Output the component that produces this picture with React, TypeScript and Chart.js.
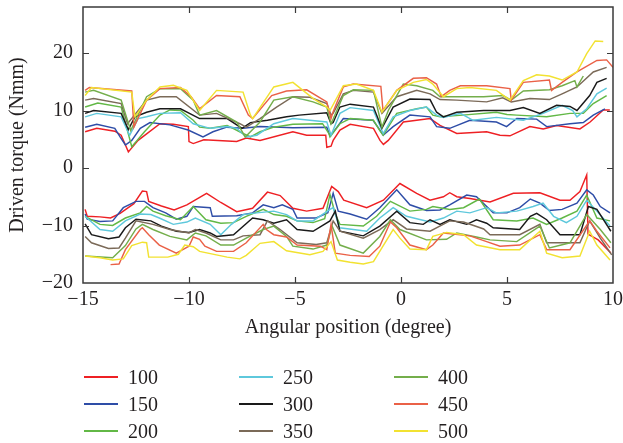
import React, { useEffect, useRef } from 'react';
import { Chart, registerables } from 'chart.js';

Chart.register(...registerables);

const FONT = '"Liberation Serif", "Times New Roman", serif';
const TEXT = '#231f20';

const seriesLabels = ['100', '150', '200', '250', '300', '350', '400', '450', '500'];
const seriesColors = ['#ee2024', '#2e4da7', '#62b846', '#5ec8dc', '#1a1a1a', '#7b6a58', '#74ae4b', '#ea6147', '#f2e231'];
const xTickValues = [-15, -10, -5, 0, 5, 10];
const yTickValues = [-20, -10, 0, 10, 20];

// upper (positive torque) branches: [angle, torque]
const up100 = [[-14.9,6.3],[-14.35,6.9],[-13.5,6.4],[-13.2,5.7],[-12.86,2.8],[-12.4,4.8],[-11.37,7.7],[-10.74,7.6],[-10.03,7.2],[-10.0,4.6],[-9.8,4.25],[-9.3,4.9],[-7.75,4.6],[-7.3,5.2],[-6.65,4.8],[-5.1,6.3],[-4.45,5.7],[-3.55,5.7],[-3.5,3.6],[-3.3,3.8],[-3.2,4.8],[-2.88,6.6],[-2.4,7.6],[-1.3,6.9],[-0.99,4.8],[-0.83,4.1],[-0.6,4.8],[0.11,8.0],[1.37,8.6],[1.84,7.4],[2.63,6.0],[4.04,6.3],[4.67,5.7],[5.14,5.6],[6.08,7.2],[6.71,6.8],[7.34,7.4],[8.44,6.8],[8.92,8.0],[9.54,10.1],[9.85,10.1]];
const up150 = [[-14.9,7.1],[-14.35,7.6],[-13.5,6.9],[-13.25,5.4],[-13.0,4.0],[-12.7,4.8],[-12.3,6.9],[-11.84,7.9],[-10.9,7.5],[-10.04,6.6],[-9.34,5.4],[-8.87,6.3],[-8.22,7.1],[-7.45,6.9],[-6.65,7.2],[-5.1,7.0],[-3.5,7.1],[-3.35,5.6],[-3.2,6.2],[-2.72,8.6],[-1.32,8.3],[-1.05,6.9],[-0.84,5.7],[-0.37,7.2],[0.42,9.2],[1.37,8.9],[1.68,7.2],[2.3,6.9],[3.25,8.3],[4.5,8.0],[4.98,7.2],[5.46,8.6],[6.4,8.5],[6.87,7.2],[7.97,7.7],[8.6,7.9],[9.07,9.2],[9.62,10.3]];
const up200 = [[-14.9,10.6],[-14.3,11.3],[-13.2,10.6],[-12.7,3.7],[-12.1,6.3],[-11.37,9.2],[-10.9,10.1],[-10.4,10.0],[-9.8,8.3],[-9.5,7.1],[-9.0,6.9],[-8.2,7.4],[-7.45,6.0],[-7.1,5.4],[-6.65,6.3],[-6.0,7.1],[-5.1,7.6],[-3.7,7.7],[-3.4,6.0],[-3.35,5.4],[-2.88,7.7],[-2.4,8.6],[-1.3,8.3],[-1.0,6.5],[-0.84,5.7],[-0.2,9.5],[0.74,10.3],[1.2,10.6],[1.5,9.2],[1.84,8.9],[2.9,9.2],[4.5,9.7],[5.0,9.3],[5.46,9.2],[6.87,8.9],[7.97,9.5],[8.6,9.5],[9.07,11.2],[9.7,12.6]];
const up250 = [[-14.9,8.9],[-14.35,9.5],[-13.2,8.9],[-12.8,5.7],[-12.4,8.6],[-12.0,8.9],[-11.37,9.5],[-10.4,9.6],[-9.8,7.7],[-9.0,6.9],[-8.2,7.2],[-7.75,6.9],[-7.3,5.4],[-6.8,5.7],[-6.0,7.7],[-5.1,8.6],[-4.3,8.3],[-3.5,8.0],[-3.3,5.7],[-2.88,9.5],[-2.4,10.5],[-1.3,10.0],[-0.84,6.0],[-0.37,8.9],[0.42,10.0],[1.2,10.6],[1.68,9.2],[2.0,8.8],[2.8,9.5],[3.4,8.3],[4.5,8.8],[5.77,8.3],[6.7,9.5],[7.6,10.9],[8.1,10.0],[8.3,8.9],[8.76,10.3],[9.24,12.9],[9.7,13.9]];
const up300 = [[-14.9,9.5],[-14.5,10.0],[-13.2,9.5],[-12.86,6.7],[-12.55,8.9],[-12.0,9.7],[-11.37,10.3],[-10.4,10.3],[-9.5,8.6],[-8.2,8.6],[-7.5,6.9],[-7.1,7.9],[-6.3,8.3],[-5.4,8.9],[-4.8,9.2],[-3.5,9.6],[-3.3,7.7],[-3.2,7.9],[-2.88,10.6],[-2.4,11.1],[-1.3,10.6],[-0.9,6.9],[-0.37,10.6],[0.42,12.0],[1.37,11.9],[1.68,9.7],[2.0,8.9],[2.63,9.7],[3.9,10.0],[5.14,10.0],[5.77,10.5],[6.55,9.5],[7.34,10.9],[7.97,10.7],[8.3,10.0],[8.9,12.6],[9.24,14.9],[9.7,15.6]];
const up350 = [[-14.9,11.8],[-14.5,12.1],[-13.2,11.2],[-12.9,7.7],[-12.0,11.8],[-11.37,12.4],[-10.6,12.4],[-9.5,9.2],[-8.7,9.5],[-7.6,7.7],[-7.3,7.1],[-6.65,8.6],[-5.87,10.6],[-5.1,12.4],[-4.3,12.3],[-3.5,11.2],[-3.3,9.2],[-3.2,9.5],[-2.72,12.9],[-2.25,13.5],[-1.3,13.2],[-0.9,9.5],[-0.2,12.4],[0.74,13.5],[1.37,12.9],[1.84,11.9],[2.63,11.8],[4.04,11.5],[4.8,12.2],[5.2,11.5],[6.08,12.1],[7.0,11.9],[7.6,12.9],[8.3,14.1],[9.07,16.7],[9.7,17.5]];
const up400 = [[-14.9,13.2],[-14.5,13.5],[-13.2,11.8],[-12.75,6.5],[-12.0,12.4],[-11.37,13.8],[-10.4,13.8],[-9.8,11.8],[-9.5,9.2],[-8.7,10.0],[-7.75,8.0],[-7.35,5.4],[-6.65,8.0],[-6.0,11.8],[-5.1,12.4],[-4.15,11.5],[-3.5,10.6],[-3.3,7.7],[-3.2,8.5],[-2.72,12.6],[-2.25,13.6],[-1.3,13.5],[-0.9,7.1],[-0.6,10.0],[0.11,14.6],[0.74,14.3],[1.5,13.5],[1.84,12.4],[3.9,12.4],[4.8,12.6],[5.2,11.8],[5.77,13.4],[7.0,13.6],[7.6,14.3],[8.2,15.2],[8.3,14.1],[8.6,16.0]];
const up450 = [[-14.9,13.5],[-14.7,14.0],[-12.7,13.4],[-12.6,7.1],[-12.0,11.8],[-11.37,13.8],[-10.4,14.0],[-9.9,12.4],[-9.5,10.3],[-8.7,12.6],[-7.6,12.4],[-7.2,9.2],[-7.0,8.6],[-6.1,12.6],[-5.4,13.4],[-4.45,13.6],[-3.5,11.5],[-3.3,8.6],[-3.2,9.8],[-2.72,14.1],[-2.25,14.6],[-0.95,14.2],[-0.85,10.0],[-0.2,13.5],[0.58,15.6],[1.2,15.7],[1.68,14.6],[1.9,12.4],[2.3,13.5],[2.8,14.3],[4.04,14.3],[5.14,13.8],[5.2,11.8],[5.77,14.9],[7.0,15.3],[7.1,13.5],[7.6,14.9],[8.3,16.7],[9.24,18.7],[9.7,18.8],[10.0,17.5]];
const up500 = [[-14.9,12.6],[-14.6,14.0],[-12.7,13.2],[-12.55,8.9],[-12.0,11.8],[-11.37,14.1],[-10.74,14.4],[-10.1,13.5],[-9.5,10.0],[-8.7,13.5],[-7.45,13.2],[-7.1,9.2],[-7.0,8.6],[-6.0,14.1],[-5.1,14.9],[-4.15,12.1],[-3.5,10.6],[-3.35,10.0],[-2.72,14.3],[-2.1,14.6],[-1.3,13.5],[-0.9,9.7],[-0.2,13.5],[0.58,14.9],[1.2,15.4],[1.5,14.6],[2.0,12.4],[2.63,13.8],[3.25,14.0],[4.5,13.5],[5.14,11.8],[5.77,15.2],[6.4,16.2],[7.0,16.0],[7.6,15.3],[8.3,16.7],[8.76,19.9],[9.16,22.1],[9.54,22.0]];

// lower (negative torque) branches: [angle, torque]
const lo100 = [[-14.9,-7.2],[-14.8,-8.4],[-14.2,-8.5],[-13.7,-8.7],[-13.25,-7.9],[-12.6,-6.2],[-12.2,-4.0],[-12.0,-4.1],[-11.9,-5.8],[-11.3,-6.6],[-10.7,-7.3],[-10.1,-6.4],[-9.17,-4.4],[-8.5,-6.0],[-7.75,-7.6],[-7.0,-7.0],[-6.3,-4.2],[-5.7,-4.8],[-5.1,-7.0],[-4.45,-7.5],[-3.68,-7.0],[-3.27,-3.2],[-2.96,-4.1],[-2.7,-5.6],[-1.62,-6.9],[-0.83,-5.6],[-0.05,-2.7],[0.74,-4.4],[1.37,-5.6],[2.0,-5.0],[2.3,-4.3],[2.63,-5.0],[3.25,-5.3],[4.2,-5.9],[5.3,-4.4],[6.55,-4.3],[7.5,-5.6],[7.97,-5.6],[8.44,-4.1],[8.76,-1.2],[8.82,-11.5],[9.3,-12.5],[9.9,-14.8]];
const lo150 = [[-14.9,-8.0],[-14.8,-8.9],[-14.2,-9.3],[-13.6,-9.2],[-13.1,-6.9],[-12.5,-5.8],[-12.1,-5.8],[-11.7,-6.9],[-11.1,-7.8],[-10.6,-8.9],[-10.1,-8.4],[-9.8,-6.7],[-9.0,-6.9],[-8.9,-8.4],[-7.75,-8.3],[-7.0,-7.8],[-6.5,-6.4],[-6.0,-6.9],[-5.6,-6.4],[-5.1,-7.2],[-4.9,-8.7],[-4.0,-8.7],[-3.45,-7.8],[-3.2,-4.4],[-2.96,-7.5],[-2.4,-8.0],[-1.62,-8.9],[-1.0,-6.9],[-0.2,-3.8],[0.42,-6.4],[1.2,-7.4],[1.84,-7.3],[2.3,-6.4],[3.1,-4.7],[3.56,-5.0],[4.35,-7.8],[5.0,-7.8],[5.6,-6.9],[6.1,-5.4],[6.55,-6.1],[7.0,-7.4],[7.6,-7.2],[8.3,-6.1],[8.76,-3.8],[9.07,-4.7],[9.4,-6.7],[9.86,-7.8]];
const lo200 = [[-14.9,-8.4],[-14.2,-9.8],[-13.6,-10.0],[-13.0,-8.7],[-12.3,-7.8],[-12.0,-6.7],[-11.7,-7.5],[-11.1,-8.3],[-10.4,-9.0],[-9.8,-6.7],[-9.2,-9.0],[-8.5,-9.6],[-7.9,-9.5],[-7.3,-8.4],[-6.5,-7.2],[-6.0,-8.1],[-5.4,-8.4],[-4.9,-9.2],[-4.15,-9.5],[-3.6,-8.8],[-3.35,-4.6],[-3.1,-8.0],[-2.88,-9.8],[-1.78,-10.1],[-1.15,-8.4],[-0.5,-5.8],[0.42,-7.5],[1.2,-7.2],[1.5,-6.7],[2.3,-7.2],[2.95,-6.9],[3.7,-5.4],[4.35,-9.0],[5.46,-9.2],[6.23,-8.7],[6.87,-9.8],[7.6,-8.7],[8.3,-7.5],[8.76,-4.7],[9.24,-8.7],[9.86,-9.2]];
const lo250 = [[-14.9,-8.4],[-14.2,-10.7],[-13.6,-11.0],[-13.0,-9.2],[-12.3,-8.0],[-11.8,-8.1],[-11.4,-8.7],[-10.74,-9.8],[-10.1,-9.4],[-9.7,-8.7],[-9.0,-9.8],[-8.5,-11.6],[-8.0,-9.8],[-7.45,-8.1],[-6.8,-7.8],[-6.0,-7.5],[-5.4,-8.1],[-4.9,-9.2],[-4.15,-9.2],[-3.35,-7.2],[-3.2,-6.9],[-2.9,-10.4],[-2.25,-10.7],[-1.62,-11.0],[-1.0,-8.7],[-0.37,-6.9],[0.26,-8.4],[1.37,-9.4],[2.0,-8.7],[2.63,-7.5],[3.25,-7.8],[4.04,-6.9],[4.5,-7.8],[5.46,-7.5],[6.23,-6.7],[6.7,-6.1],[7.2,-8.4],[7.8,-9.5],[8.3,-8.4],[8.76,-5.6],[9.24,-7.5],[9.86,-10.1]];
const lo300 = [[-14.9,-9.7],[-14.6,-11.6],[-13.8,-12.3],[-13.3,-12.0],[-13.0,-10.4],[-12.5,-8.9],[-11.8,-9.2],[-11.3,-10.1],[-10.6,-11.0],[-10.0,-11.2],[-9.5,-10.7],[-9.0,-11.3],[-8.7,-11.9],[-7.9,-11.6],[-7.0,-8.7],[-6.5,-9.0],[-6.0,-9.6],[-5.4,-9.0],[-4.9,-10.7],[-4.15,-11.0],[-3.35,-9.2],[-3.1,-7.5],[-2.88,-11.0],[-1.78,-11.8],[-1.0,-10.1],[-0.2,-7.5],[0.42,-9.5],[1.05,-9.8],[1.37,-9.0],[1.84,-9.8],[2.3,-9.0],[3.1,-9.8],[3.56,-9.0],[4.04,-9.6],[4.35,-10.4],[5.6,-10.7],[6.1,-8.4],[6.4,-7.9],[6.87,-9.0],[7.5,-11.6],[8.44,-11.6],[8.84,-6.7],[9.24,-7.2],[9.9,-11.0]];
const lo350 = [[-14.9,-11.9],[-14.6,-13.0],[-13.8,-14.0],[-13.3,-13.9],[-13.0,-12.2],[-12.5,-9.2],[-11.7,-9.8],[-10.9,-10.7],[-10.0,-11.3],[-9.7,-10.7],[-9.2,-11.3],[-8.5,-12.5],[-7.9,-12.5],[-7.45,-11.8],[-6.65,-11.6],[-6.3,-9.2],[-5.7,-10.7],[-4.9,-13.0],[-4.0,-13.3],[-3.5,-13.0],[-3.2,-9.2],[-2.88,-11.0],[-1.78,-12.2],[-1.0,-10.7],[-0.37,-9.0],[0.26,-10.6],[1.37,-11.0],[2.3,-9.2],[2.95,-9.4],[3.9,-10.6],[4.2,-11.6],[5.6,-11.6],[6.55,-9.8],[6.87,-13.0],[8.44,-13.0],[8.9,-9.2],[9.4,-12.2],[9.94,-15.1]];
const lo400 = [[-14.9,-15.3],[-13.6,-15.6],[-13.0,-13.5],[-12.5,-10.6],[-12.2,-9.8],[-11.7,-10.7],[-10.9,-11.9],[-10.1,-12.5],[-9.7,-11.3],[-9.2,-11.8],[-8.5,-13.4],[-7.9,-13.4],[-7.3,-12.2],[-6.5,-10.7],[-6.0,-10.1],[-5.4,-11.9],[-5.1,-13.6],[-4.15,-14.1],[-3.5,-13.4],[-3.25,-10.1],[-2.88,-13.4],[-1.78,-14.8],[-1.0,-11.9],[-0.5,-9.0],[-0.05,-10.7],[1.2,-12.5],[2.15,-12.4],[2.63,-11.3],[3.56,-12.0],[4.2,-12.5],[5.46,-12.8],[6.55,-10.1],[7.0,-13.9],[7.97,-13.0],[8.76,-8.1],[9.4,-10.7],[9.9,-13.0]];
const lo450 = [[-13.7,-16.8],[-13.3,-16.7],[-13.0,-14.2],[-12.3,-10.7],[-12.2,-10.4],[-11.9,-11.6],[-11.4,-13.4],[-10.6,-14.8],[-10.0,-13.6],[-9.8,-12.0],[-9.5,-12.4],[-9.25,-13.6],[-8.7,-14.5],[-7.9,-14.5],[-7.3,-13.0],[-6.5,-9.8],[-6.35,-10.7],[-6.0,-11.6],[-5.4,-12.0],[-4.9,-13.4],[-3.8,-13.6],[-3.5,-14.2],[-3.3,-9.8],[-3.1,-14.8],[-2.4,-15.2],[-1.5,-15.4],[-1.0,-13.6],[-0.5,-9.4],[-0.2,-10.4],[0.42,-13.4],[1.2,-14.2],[1.5,-13.4],[2.0,-11.3],[3.25,-11.8],[4.04,-12.8],[4.67,-13.6],[5.6,-13.4],[6.55,-11.6],[6.87,-14.2],[7.97,-14.2],[8.9,-9.2],[9.24,-11.0],[9.86,-13.9]];
const lo500 = [[-14.9,-15.3],[-14.2,-15.6],[-13.6,-16.0],[-13.1,-15.8],[-12.7,-13.5],[-12.2,-12.9],[-12.0,-13.0],[-11.9,-15.5],[-11.0,-15.5],[-10.5,-15.0],[-10.2,-13.4],[-9.8,-13.7],[-9.5,-14.5],[-8.2,-15.5],[-7.6,-15.8],[-7.3,-15.2],[-6.65,-13.1],[-6.0,-12.8],[-5.4,-14.4],[-4.3,-15.1],[-3.68,-14.5],[-3.3,-12.8],[-3.0,-16.0],[-2.4,-16.4],[-1.78,-16.7],[-1.3,-16.3],[-0.37,-10.7],[-0.05,-12.2],[0.42,-14.1],[1.2,-14.2],[1.5,-11.9],[2.15,-11.2],[2.95,-11.6],[3.56,-13.4],[4.67,-14.2],[5.6,-14.2],[6.55,-11.0],[6.87,-14.8],[7.6,-15.6],[8.44,-15.3],[8.9,-11.0],[9.24,-13.4],[9.86,-16.0]];

const upperBranches = [up100, up150, up200, up250, up300, up350, up400, up450, up500];
const lowerBranches = [lo100, lo150, lo200, lo250, lo300, lo350, lo400, lo450, lo500];

const fmtTick = (v: number | string) => {
  const n = Number(v);
  return n < 0 ? '\u2212' + Math.abs(n) : String(n);
};

const framePlugin = {
  id: 'frameTicks',
  afterDatasetsDraw(chart: any) {
    const { ctx, chartArea, scales } = chart;
    const { left, right, top, bottom } = chartArea;
    const x = scales.x;
    const y = scales.y;
    ctx.save();
    ctx.strokeStyle = '#3a3a3a';
    ctx.lineWidth = 1.5;
    ctx.strokeRect(left, top, right - left, bottom - top);
    ctx.lineWidth = 1.2;
    ctx.beginPath();
    for (const v of xTickValues) {
      if (v === x.min || v === x.max) continue;
      const px = Math.round(x.getPixelForValue(v)) + 0.5;
      ctx.moveTo(px, bottom);
      ctx.lineTo(px, bottom - 6);
      ctx.moveTo(px, top);
      ctx.lineTo(px, top + 6);
    }
    for (const v of yTickValues) {
      if (v === y.min || v === y.max) continue;
      const py = Math.round(y.getPixelForValue(v)) + 0.5;
      ctx.moveTo(left, py);
      ctx.lineTo(left + 6, py);
      ctx.moveTo(right, py);
      ctx.lineTo(right - 6, py);
    }
    ctx.stroke();
    ctx.restore();
  },
};

export default function App() {
  const canvasRef = useRef<HTMLCanvasElement | null>(null);

  useEffect(() => {
    if (!canvasRef.current) return;
    const datasets: any[] = [];
    seriesLabels.forEach((label, i) => {
      [upperBranches[i], lowerBranches[i]].forEach((branch, b) => {
        datasets.push({
          label: b === 0 ? label : label + ' (neg)',
          data: branch.map(([x, y]) => ({ x, y })),
          borderColor: seriesColors[i],
          backgroundColor: seriesColors[i],
          borderWidth: 1.45,
          pointRadius: 0,
          tension: 0,
          fill: false,
          order: -i,
        });
      });
    });

    const chart = new Chart(canvasRef.current, {
      type: 'line',
      data: { datasets },
      plugins: [framePlugin],
      options: {
        animation: false,
        responsive: false,
        events: [],
        layout: { padding: { top: 7, right: 10, left: 0, bottom: 103 } },
        plugins: { legend: { display: false }, tooltip: { enabled: false } },
        scales: {
          x: {
            type: 'linear',
            min: -15,
            max: 10,
            afterBuildTicks: (s: any) => { s.ticks = xTickValues.map((v) => ({ value: v })); },
            afterFit: (s: any) => { s.height = 57; s.paddingLeft = 0; s.paddingRight = 0; },
            grid: { display: false, drawTicks: false },
            border: { display: false },
            ticks: { padding: 5, maxRotation: 0, autoSkip: false, color: TEXT, font: { family: FONT, size: 20 }, callback: fmtTick },
            title: { display: true, text: 'Angular position (degree)', color: TEXT, font: { family: FONT, size: 20 }, padding: 0 },
          },
          y: {
            type: 'linear',
            min: -20,
            max: 28,
            afterBuildTicks: (s: any) => { s.ticks = yTickValues.map((v) => ({ value: v })); },
            afterFit: (s: any) => { s.width = 83; s.paddingTop = 0; s.paddingBottom = 0; },
            grid: { display: false, drawTicks: false },
            border: { display: false },
            ticks: { padding: 10, color: TEXT, font: { family: FONT, size: 20 }, callback: fmtTick },
            title: { display: true, text: 'Driven torque (Nmm)', color: TEXT, font: { family: FONT, size: 20 }, padding: { top: 6, bottom: 0 } },
          },
        },
      } as any,
    });
    return () => chart.destroy();
  }, []);

  const legendItems = seriesLabels.map((label, i) => {
    const col = Math.floor(i / 3);
    const row = i % 3;
    const left = 84 + col * 155;
    const cy = 377 + row * 27;
    return (
      <div key={label}>
        <div style={{ position: 'absolute', left, top: cy - 1, width: 34, height: 2, background: seriesColors[i] }} />
        <div style={{ position: 'absolute', left: left + 44, top: cy - 12, height: 24, lineHeight: '24px', fontFamily: FONT, fontSize: 20, color: TEXT, whiteSpace: 'nowrap' }}>{label}</div>
      </div>
    );
  });

  return (
    <div style={{ position: 'fixed', left: 0, top: 0, width: 623, height: 443, background: '#fff' }}>
      <canvas ref={canvasRef} width={623} height={443} style={{ position: 'absolute', left: 0, top: 0, width: 623, height: 443 }} />
      {legendItems}
    </div>
  );
}
